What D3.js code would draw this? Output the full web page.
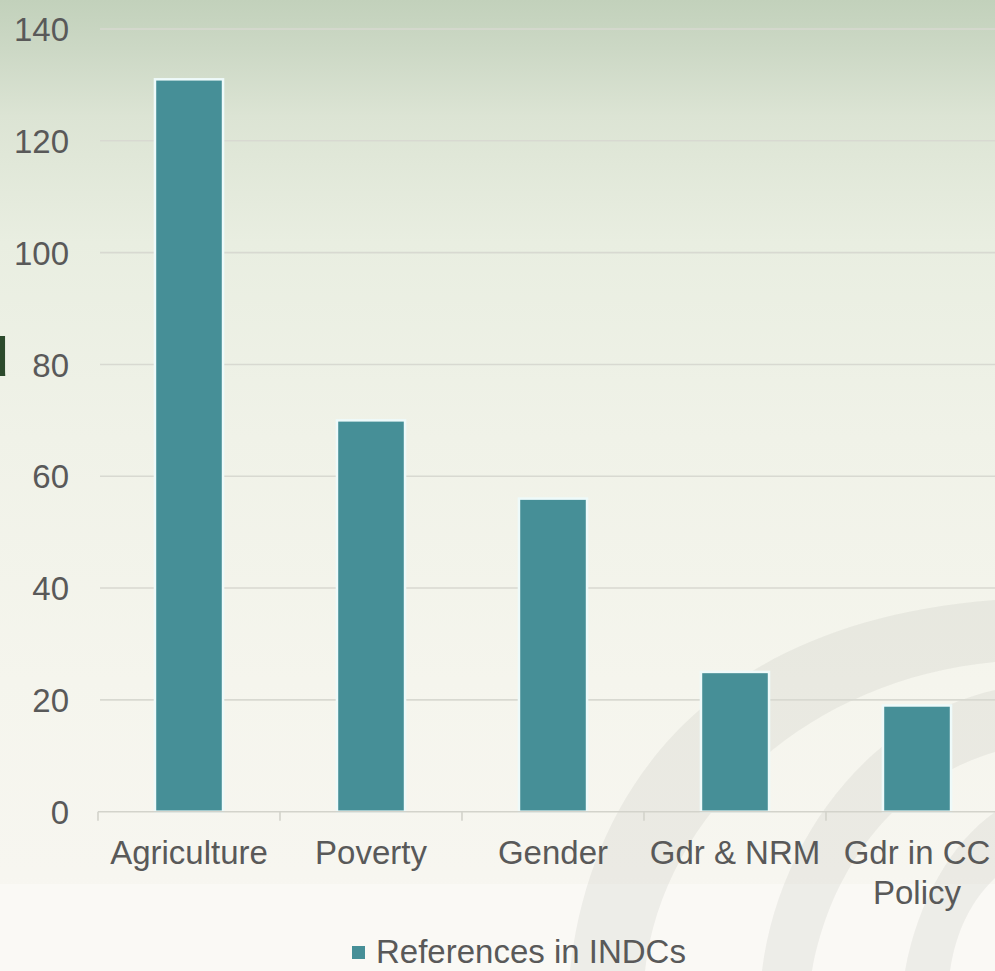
<!DOCTYPE html>
<html>
<head>
<meta charset="utf-8">
<script src="https://cdn.jsdelivr.net/npm/d3@7"></script>
<style>
  html, body { margin: 0; padding: 0; background: #f7f6f0; }
  svg { display: block; }
</style>
</head>
<body>
<svg id="chart" width="995" height="971"></svg>
<script>
const categories = ["Agriculture", "Poverty", "Gender", "Gdr & NRM", "Gdr in CC Policy"];
const categoryLines = [["Agriculture"], ["Poverty"], ["Gender"], ["Gdr & NRM"], ["Gdr in CC", "Policy"]];
const values = [131, 70, 56, 25, 19];
const yTicks = [0, 20, 40, 60, 80, 100, 120, 140];
const seriesName = "References in INDCs";

const W = 995, H = 971;
const svg = d3.select("#chart");
const defs = svg.append("defs");

// background gradient
const grad = defs.append("linearGradient").attr("id", "bg").attr("x1", 0).attr("y1", 0).attr("x2", 0).attr("y2", 1);
[[0, "#c2d1bb"], [0.05, "#ccd8c5"], [0.12, "#dce4d4"], [0.25, "#e9eee1"], [0.45, "#f0f2e8"], [0.7, "#f5f5ed"], [0.9, "#f7f6f0"], [1, "#f8f7f2"]]
  .forEach(([o, c]) => grad.append("stop").attr("offset", o).attr("stop-color", c));
svg.append("rect").attr("width", W).attr("height", H).attr("fill", "url(#bg)");
svg.append("rect").attr("x", 0).attr("y", 884).attr("width", W).attr("height", H - 884).attr("fill", "#faf9f5");

// decorative swooshes
const swoosh = svg.append("g").attr("fill", "rgba(170,168,158,0.15)");
swoosh.append("path").attr("d", "M570,971 C588,800 700,622 995,600 L995,662 C800,680 662,820 645,971 Z");
swoosh.append("path").attr("d", "M762,971 C778,840 870,718 995,690 L995,752 C900,780 832,862 812,971 Z");
swoosh.append("path").attr("d", "M905,971 C918,900 952,842 995,812 L995,878 C972,900 956,930 950,971 Z");

// partial slide letter at left edge
svg.append("text").attr("x", 9).attr("y", 376).attr("text-anchor", "end")
  .attr("font-family", "Liberation Sans, Arial, sans-serif").attr("font-weight", "bold")
  .attr("font-size", 56).attr("fill", "#2c4a2c").text("d");

const font = "Liberation Sans, Arial, Helvetica, sans-serif";
const textColor = "#595959";

const y = d3.scaleLinear().domain([0, 140]).range([811.7, 29]);
const x = d3.scaleBand().domain(categories).range([98, 1008]).paddingInner(0.626).paddingOuter(0.313);

// gridlines
svg.append("g").selectAll("line").data(yTicks.filter(d => d > 0)).join("line")
  .attr("x1", 100).attr("x2", W).attr("y1", d => y(d)).attr("y2", d => y(d))
  .attr("stroke", "#d8d9d1").attr("stroke-width", 1.6);

// y axis labels
const yAxis = d3.axisLeft(y).tickValues(yTicks).tickSize(0).tickPadding(0);
const yg = svg.append("g").attr("transform", "translate(69,0)").call(yAxis);
yg.select(".domain").remove();
yg.selectAll("text").attr("font-family", font).attr("font-size", 33).attr("fill", textColor).attr("dy", "0.35em");

// bars
svg.append("g").selectAll("rect").data(values).join("rect")
  .attr("x", (d, i) => x(categories[i]))
  .attr("width", x.bandwidth())
  .attr("y", d => y(d))
  .attr("height", d => y(0) - y(d))
  .attr("fill", "#468f97")
  .attr("stroke", "#eefafa")
  .attr("stroke-width", 2.5);

// x axis line + ticks
const step = x.step();
const boundaries = d3.range(categories.length + 1).map(i => 98 + i * step);
svg.append("line").attr("x1", 98).attr("x2", W).attr("y1", y(0)).attr("y2", y(0))
  .attr("stroke", "#d3d3cb").attr("stroke-width", 1.6);
svg.append("g").selectAll("line").data(boundaries).join("line")
  .attr("x1", d => d).attr("x2", d => d).attr("y1", y(0)).attr("y2", y(0) + 9)
  .attr("stroke", "#d3d3cb").attr("stroke-width", 1.6);

// category labels
const cl = svg.append("g").selectAll("text").data(categoryLines).join("text")
  .attr("x", (d, i) => x(categories[i]) + x.bandwidth() / 2)
  .attr("y", 864)
  .attr("text-anchor", "middle")
  .attr("font-family", font).attr("font-size", 33).attr("fill", textColor);
cl.each(function(lines, i) {
  const t = d3.select(this);
  lines.forEach((ln, j) => {
    t.append("tspan").attr("x", x(categories[i]) + x.bandwidth() / 2).attr("dy", j === 0 ? 0 : 40).text(ln);
  });
});

// legend
svg.append("rect").attr("x", 352).attr("y", 946).attr("width", 13).attr("height", 13).attr("fill", "#468f97");
svg.append("text").attr("x", 376).attr("y", 963)
  .attr("font-family", font).attr("font-size", 33).attr("fill", textColor).text(seriesName);
</script>
</body>
</html>
